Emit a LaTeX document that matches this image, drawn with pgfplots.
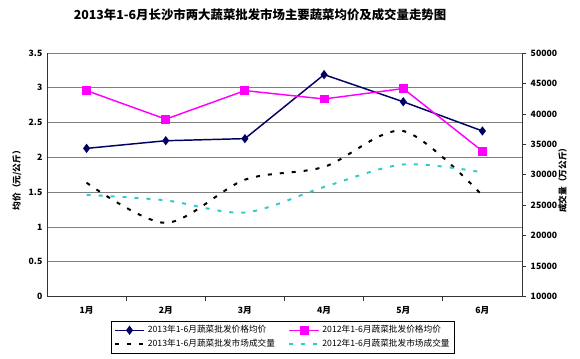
\documentclass[border=0pt]{standalone}
\usepackage{fontspec}
\setmainfont{Noto Sans CJK SC}
\usepackage{pgfplots}
\pgfplotsset{compat=1.18}
\definecolor{navyc}{RGB}{0,0,102}
\definecolor{magc}{RGB}{255,0,255}
\definecolor{cyanc}{RGB}{51,204,204}
\definecolor{gridc}{RGB}{128,128,128}
\newcommand{\tfont}{\fontsize{6.5}{7.5}\selectfont\bfseries}
\begin{document}
\begin{tikzpicture}[x=1pt,y=1pt]
\path[use as bounding box] (0,0) rectangle (435,268.5);
\node[font=\fontsize{9.3}{11}\selectfont\bfseries] at (195,257.5) {2013年1-6月长沙市两大蔬菜批发市场主要蔬菜均价及成交量走势图};
\node[rotate=90,font=\tfont] at (12.75,135) {均价（元/公斤）};
\node[rotate=90,font=\tfont] at (422,135) {成交量（万公斤）};

\begin{axis}[at={(35.25pt,46.1pt)},anchor=south west,
  width=356.25pt,height=182.6pt,scale only axis,
  xmin=0.5,xmax=6.5,ymin=0,ymax=3.5,
  xtick={1,2,3,4,5,6},
  xticklabels={1月,2月,3月,4月,5月,6月},
  major x tick style={draw=none},
  minor xtick={1.5,2.5,3.5,4.5,5.5},
  xtick align=outside, minor tick length=3pt,
  ytick={0,0.5,1,1.5,2,2.5,3,3.5},
  major y tick style={draw=none},
  ymajorgrids, grid style={gridc,line width=0.7pt},
  axis x line*=bottom, axis y line*=left,
  axis line style={-,black!80,line width=0.6pt},
  tick style={black!80,line width=0.6pt},
  tick label style={font=\tfont},
  /pgf/number format/assume math mode=true,
  clip=false,
]
\addplot[navyc,line width=1.1pt,mark=diamond*,mark size=2.6pt,mark options={fill=navyc}]
  coordinates {(1,2.13)(2,2.24)(3,2.27)(4,3.19)(5,2.80)(6,2.38)};
\addplot[magc,line width=1.1pt,mark=square*,mark size=2.8pt,mark options={fill=magc}]
  coordinates {(1,2.96)(2,2.55)(3,2.96)(4,2.84)(5,2.99)(6,2.09)};
\end{axis}

\begin{axis}[at={(35.25pt,46.1pt)},anchor=south west,
  width=356.25pt,height=182.6pt,scale only axis,
  xmin=0.5,xmax=6.5,ymin=10000,ymax=50000,
  axis x line=none, axis y line*=right,
  axis line style={-,black!80,line width=0.6pt},
  ytick={10000,15000,20000,25000,30000,35000,40000,45000,50000},
  ytick align=outside, major tick length=3pt,
  tick style={black!80,line width=0.6pt},
  scaled y ticks=false,
  yticklabel style={/pgf/number format/1000 sep={}},
  tick label style={font=\tfont},
  /pgf/number format/assume math mode=true,
  legend style={at={(0.497,-0.166)},anchor=center,draw=black,line width=0.6pt,
    font=\fontsize{6.5}{7.5}\selectfont,inner sep=1.5pt,row sep=-1pt,
    /tikz/every even column/.append style={column sep=8pt}},
  legend columns=2, legend cell align=left,
  legend image code/.code={\draw[#1] (0pt,0pt) -- (22pt,0pt); \path[#1,solid] plot coordinates {(11pt,0pt)};},
]
\addlegendimage{navyc,line width=1.1pt,mark=diamond*,mark size=2.6pt,mark options={fill=navyc}}
\addlegendentry{2013年1-6月蔬菜批发价格均价}
\addlegendimage{magc,line width=1.1pt,mark=square*,mark size=2.8pt,mark options={fill=magc}}
\addlegendentry{2012年1-6月蔬菜批发价格均价}
\addplot[black,line width=1.5pt,dash pattern=on 3pt off 6pt,smooth,mark=none]
  coordinates {(1,28700)(2,22100)(3,29200)(4,31300)(5,37200)(6,26600)};
\addlegendentry{2013年1-6月蔬菜批发市场成交量}
\addplot[cyanc,line width=1.5pt,dash pattern=on 3pt off 6pt,smooth,mark=none]
  coordinates {(1,26700)(2,25800)(3,23800)(4,28000)(5,31700)(6,30400)};
\addlegendentry{2012年1-6月蔬菜批发市场成交量}
\end{axis}
\end{tikzpicture}
\end{document}
